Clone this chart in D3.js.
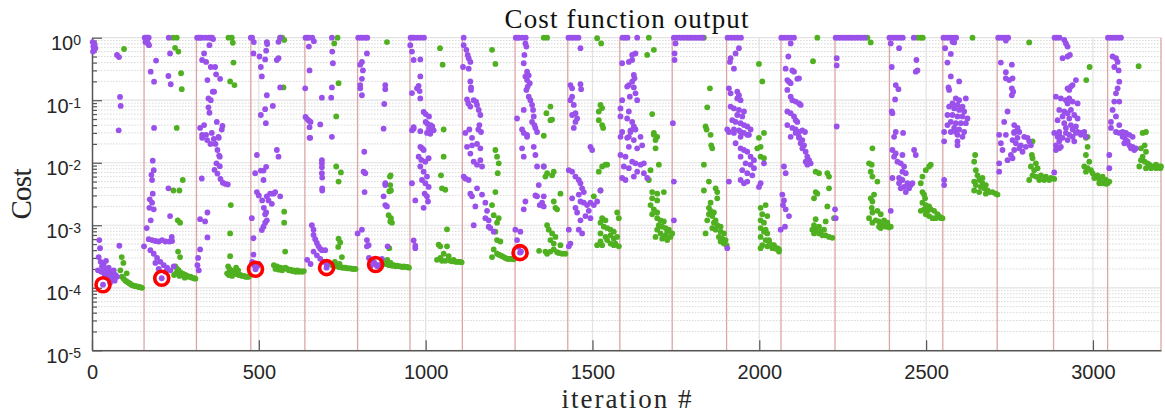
<!doctype html>
<html>
<head>
<meta charset="utf-8">
<title>Cost function output</title>
<script src="https://d3js.org/d3.v7.min.js"></script>
<style>
body { margin: 0; background: #fff; }
svg text { fill: #262626; }
.tick text { font-family: "Liberation Sans", Arial, Helvetica, sans-serif; }
.serif { font-family: "Liberation Serif", "Times New Roman", serif; }
</style>
</head>
<body>
<svg id="chart"></svg>
<script>
// restart boundaries (iteration #)
var restarts = [156, 313, 476, 638, 796, 953, 1110, 1268, 1426, 1582, 1739, 1902, 2065, 2227, 2390, 2550, 2713, 2882, 3044, 3204];

var xTicks = [0, 500, 1000, 1500, 2000, 2500, 3000];
var yTicks = [1e-5, 1e-4, 1e-3, 1e-2, 1e-1, 1];
var yTickExp = ["-5", "-4", "-3", "-2", "-1", "0"];

// [iteration, cost]
var purplePts = [
  [2,0.85],[4,0.72],[6,0.65],[8,0.78],[3,0.6],[10,0.68],[75,0.53],[81,0.49],[84,0.113],[86,0.081],[80,0.033],[22,5.8e-4],[24,4.3e-4],[20,3.1e-4],[26,2.6e-4],[30,2.2e-4],[35,2.4e-4],[40,2.0e-4],[45,1.9e-4],[50,2.1e-4],[55,1.8e-4],[60,1.7e-4],[65,1.9e-4],[70,1.6e-4],[28,1.8e-4],[38,1.6e-4],[48,1.5e-4],[33,1.12e-4],[82,4.7e-4],[75,1.5e-4],[18,1.9e-4],[42,2.7e-4],[52,1.6e-4],[62,1.45e-4],[58,1.35e-4],[68,1.3e-4],[54,1.2e-4],
  [158,1],[162,1],[166,1],[170,1],[165,0.9],[160,0.85],[168,0.8],[171,0.76],[192,0.43],[176,0.286],[186,0.198],[234,0.56],[229,0.244],[236,0.18],[230,1],[186,0.036],[182,0.0108],[178,0.0064],[180,0.0053],[185,0.0076],[182,0.0032],[180,0.0023],[185,0.0018],[164,9e-4],[156,4.6e-4],[170,6e-4],[180,5.8e-4],[190,5.6e-4],[200,5.5e-4],[210,5.8e-4],[220,5.5e-4],[232,5.5e-4],[240,5.6e-4],[229,0.0039],[234,0.0014],[239,6.5e-4],[175,4e-4],[185,3.5e-4],[195,3e-4],[205,2.6e-4],[215,2.3e-4],[225,2.1e-4],[190,2.5e-4],[200,2e-4],[209,1.42e-4],[220,1.8e-4],[235,1.9e-4],[245,2.2e-4],[172,1.9e-3],[176,1.2e-3],[173,2.6e-3],
  [315,1],[320,1],[325,1],[330,1],[340,1],[350,1],[355,1],[360,1],[363,0.95],[352,0.76],[336,0.56],[330,0.44],[342,0.41],[356,0.34],[369,0.34],[372,0.26],[346,0.21],[384,0.22],[362,0.137],[366,0.137],[349,0.107],[356,0.1],[349,0.077],[352,0.063],[374,0.045],[336,0.04],[324,0.036],[391,0.039],[389,0.034],[359,0.03],[330,0.028],[342,0.028],[379,0.026],[330,0.025],[345,0.023],[365,0.024],[380,0.025],[370,0.02],[355,0.02],[376,0.016],[381,0.013],[383,0.0125],[373,0.0098],[383,0.0088],[367,0.0077],[376,0.0067],[385,0.0055],[392,0.0048],[399,0.0046],[407,0.0045],[329,0.0056],[346,0.0016],[339,0.00115],[324,0.00125],[346,6.4e-4],[324,4.1e-4],[318,3e-4],[316,2.3e-4],[320,1.9e-4],
  [476,1],[480,1],[485,0.85],[484,0.56],[502,0.5],[506,0.34],[509,0.24],[524,0.85],[525,0.79],[522,0.62],[519,0.45],[524,0.12],[559,0.86],[564,1],[554,0.44],[559,0.47],[564,0.16],[542,0.081],[519,0.072],[506,0.058],[521,0.043],[494,0.0133],[489,0.0068],[506,0.0075],[514,0.0075],[522,0.0086],[514,0.0053],[494,0.0034],[500,0.003],[510,0.0025],[515,0.0019],[522,0.0016],[524,0.0029],[529,0.0025],[534,0.0032],[539,0.0022],[544,0.0032],[519,0.0015],[524,0.0012],[514,9.5e-4],[509,8.4e-4],[519,0.0011],[554,0.016],[559,0.0125],[549,0.0034],[564,0.0029],[479,0.0013],[484,6.2e-4],[484,3.4e-4],[480,2.6e-4],[486,2.3e-4],[490,1.98e-4],[495,2.2e-4],[500,2.4e-4],
  [640,1],[645,1],[650,1],[660,1],[665,0.88],[650,0.72],[652,0.3],[639,0.155],[640,0.054],[645,0.05],[650,0.047],[655,0.045],[652,0.037],[654,0.025],[689,0.11],[684,0.041],[719,1],[720,0.6],[722,0.39],[719,0.16],[717,0.11],[719,0.026],[652,0.025],[689,0.011],[689,0.0098],[689,0.0085],[689,0.0068],[690,0.0058],[690,0.0039],[690,0.0036],[659,0.001],[664,8.5e-4],[664,7e-4],[669,6e-4],[674,5.2e-4],[679,4.6e-4],[684,4.2e-4],[689,4e-4],[699,4e-4],[664,3.8e-4],[674,3.3e-4],[684,2.9e-4],[694,2.6e-4],[704,2.3e-4],[703,2.1e-4],[645,2.8e-4],[655,2.4e-4],
  [798,1],[805,1],[812,1],[820,1],[825,1],[824,0.56],[809,0.41],[804,0.37],[812,0.3],[809,0.22],[804,0.175],[804,0.155],[809,0.12],[879,0.175],[879,0.15],[876,0.087],[874,0.035],[816,0.015],[814,0.0072],[819,0.0068],[817,0.0034],[796,7.4e-4],[809,8.5e-4],[824,5.8e-4],[829,4.8e-4],[824,4.6e-4],[874,0.0029],[879,0.0021],[879,0.0047],[886,4.6e-4],[869,2.9e-4],[830,3e-4],[840,2.7e-4],[850,2.36e-4],[860,2.3e-4],[855,2.2e-4],[845,2.6e-4],[835,2.2e-4],[879,0.0044],[884,0.002],
  [955,1],[960,1],[965,1],[975,1],[985,1],[995,1],[954,0.76],[959,0.6],[964,0.44],[984,0.45],[984,0.24],[979,0.17],[974,0.155],[982,0.14],[959,0.13],[984,0.107],[994,0.065],[1000,0.06],[1010,0.055],[1000,0.045],[1005,0.042],[1015,0.04],[1020,0.038],[1010,0.035],[1015,0.033],[964,0.037],[959,0.033],[964,0.035],[984,0.032],[1004,0.03],[1014,0.029],[1024,0.033],[959,0.0047],[969,0.0025],[984,0.018],[989,0.0171],[994,0.016],[979,0.0125],[987,0.0111],[999,0.0104],[1009,0.0118],[984,0.0087],[994,0.0072],[1004,0.006],[989,0.0053],[999,0.0047],[1009,0.0041],[997,0.0032],[1004,0.0029],[1007,0.0024],[994,0.0019],[964,5.7e-4],[969,4.7e-4],[969,4.3e-4],
  [1114,1],[1114,0.76],[1122,0.64],[1126,0.53],[1129,0.47],[1134,0.41],[1129,0.32],[1112,0.34],[1134,0.2],[1136,0.16],[1136,0.146],[1124,0.103],[1128,0.089],[1134,0.079],[1144,0.1],[1151,0.095],[1154,0.084],[1159,0.07],[1164,0.058],[1131,0.034],[1161,0.04],[1158,0.034],[1166,0.031],[1119,0.03],[1139,0.025],[1124,0.018],[1139,0.019],[1154,0.02],[1164,0.017],[1134,0.014],[1144,0.0104],[1164,0.011],[1154,0.0093],[1169,0.0087],[1114,0.006],[1119,0.0056],[1129,0.0053],[1134,0.0032],[1139,0.0029],[1154,0.0039],[1149,0.002],[1169,0.0031],[1179,0.0023],[1184,0.0017],[1179,0.0013],[1189,0.0012],[1144,0.001],[1189,9.5e-4],[1194,9e-4],[1204,7.9e-4],
  [1270,1],[1275,1],[1280,1],[1290,1],[1300,1],[1299,0.81],[1302,0.72],[1296,0.53],[1294,0.39],[1304,0.286],[1299,0.24],[1309,0.25],[1304,0.21],[1312,0.187],[1306,0.165],[1302,0.146],[1309,0.114],[1314,0.1],[1319,0.084],[1322,0.07],[1324,0.055],[1319,0.045],[1326,0.04],[1329,0.036],[1334,0.031],[1294,0.07],[1274,0.051],[1289,0.034],[1304,0.028],[1294,0.03],[1304,0.026],[1324,0.018],[1329,0.0133],[1334,0.0087],[1354,0.0087],[1339,0.0044],[1329,0.003],[1334,0.0029],[1342,0.0021],[1354,0.0029],[1354,0.002],[1349,0.0023],[1294,0.0018],[1299,0.0024],[1289,0.017],[1294,0.0125],[1269,8.5e-4],[1284,7.9e-4],[1274,5.8e-4],[1286,3.8e-4],[1283,3.65e-4],[1278,4.5e-4],
  [1428,1],[1435,1],[1442,1],[1450,1],[1458,1],[1464,0.68],[1434,0.175],[1439,0.155],[1464,0.18],[1466,0.15],[1439,0.114],[1434,0.1],[1444,0.084],[1449,0.062],[1439,0.058],[1454,0.051],[1449,0.045],[1444,0.036],[1429,0.0076],[1439,0.0072],[1449,0.006],[1459,0.0053],[1464,0.0047],[1469,0.0039],[1474,0.0034],[1459,0.0031],[1464,0.0024],[1474,0.0023],[1484,0.0021],[1494,0.0023],[1504,0.0021],[1514,0.0024],[1489,0.0017],[1479,0.0014],[1494,0.0013],[1464,0.0012],[1459,8.5e-4],[1469,7.4e-4],[1449,0.0019],[1454,0.0016],[1439,0.0027],[1494,0.018],[1499,0.016],[1524,0.0036],[1429,8.5e-4],[1434,5.1e-4],[1429,4.6e-4],
  [1590,1],[1598,1],[1605,1],[1634,1],[1629,0.56],[1619,0.53],[1609,0.41],[1589,0.39],[1619,0.44],[1624,0.253],[1626,0.224],[1619,0.198],[1604,0.165],[1609,0.175],[1624,0.16],[1612,0.114],[1629,0.129],[1634,0.1],[1589,0.1],[1584,0.074],[1609,0.066],[1604,0.051],[1584,0.055],[1619,0.045],[1624,0.038],[1629,0.034],[1614,0.031],[1609,0.026],[1589,0.031],[1614,0.033],[1584,0.026],[1604,0.025],[1624,0.023],[1644,0.026],[1649,0.019],[1609,0.018],[1634,0.017],[1584,0.0133],[1599,0.0125],[1619,0.0104],[1629,0.0098],[1644,0.0093],[1654,0.0098],[1594,0.0087],[1609,0.0082],[1634,0.0072],[1654,0.0068],[1664,0.0057],[1589,0.0057],[1599,0.0053],[1624,0.006],
  [1744,1],[1752,1],[1760,1],[1768,1],[1776,1],[1784,1],[1792,1],[1800,1],[1808,1],[1816,1],[1824,1],[1830,1],[1749,0.81],[1746,0.56],[1746,0.44],[1741,0.043],[1744,0.005],[1744,0.0012],
  [1905,1],[1915,1],[1925,1],[1935,1],[1945,1],[1939,0.68],[1929,0.56],[1914,0.47],[1912,0.41],[1924,0.32],[1909,0.155],[1914,0.129],[1934,0.137],[1939,0.12],[1934,0.107],[1944,0.1],[1914,0.079],[1924,0.074],[1939,0.07],[1954,0.066],[1934,0.058],[1949,0.055],[1919,0.048],[1929,0.045],[1944,0.043],[1954,0.04],[1909,0.031],[1924,0.034],[1939,0.033],[1964,0.038],[1974,0.034],[1954,0.03],[1969,0.028],[1944,0.026],[1904,0.034],[1924,0.03],[1944,0.031],[1964,0.028],[1929,0.0205],[1944,0.017],[1954,0.016],[1964,0.015],[1974,0.0125],[1984,0.011],[1944,0.0125],[1959,0.0098],[1974,0.0093],[1984,0.0082],[1949,0.0076],[1964,0.0068],[1979,0.0063],[1944,0.0053],[1954,0.0047],[1964,0.005],[2004,0.0047],[2014,0.0098],[1999,0.0041],[1909,0.005],[1904,4.3e-4],
  [2066,1],[2075,1],[2085,1],[2095,1],[2104,1],[2094,0.81],[2087,0.5],[2079,0.32],[2099,0.3],[2104,0.286],[2114,0.22],[2119,0.224],[2084,0.21],[2089,0.198],[2094,0.187],[2084,0.146],[2094,0.114],[2099,0.1],[2109,0.095],[2119,0.089],[2124,0.084],[2084,0.066],[2094,0.062],[2104,0.055],[2109,0.048],[2114,0.045],[2084,0.04],[2099,0.036],[2109,0.034],[2119,0.031],[2129,0.033],[2137,0.031],[2094,0.026],[2119,0.025],[2109,0.03],[2119,0.026],[2129,0.023],[2124,0.0205],[2134,0.019],[2129,0.017],[2139,0.015],[2144,0.0125],[2149,0.011],[2139,0.0104],[2154,0.0098],[2144,0.0093],[2074,0.0087],[2079,0.0068],[2069,0.0031],[2074,0.0025],[2071,0.0021],[2079,0.0018],[2089,0.0014],[2064,8.5e-4],[2077,9.5e-4],[2227,0.0018],[2229,0.0013],
  [2229,1],[2236,1],[2244,1],[2252,1],[2260,1],[2268,1],[2276,1],[2284,1],[2292,1],[2300,1],[2308,1],[2316,1],[2232,0.47],[2232,0.36],[2232,0.038],
  [2390,1],[2398,1],[2406,1],[2414,1],[2422,1],[2430,1],[2463,1],[2394,0.81],[2419,0.68],[2397,0.34],[2471,0.44],[2469,0.286],[2474,0.3],[2409,0.175],[2417,0.15],[2407,0.103],[2397,0.066],[2399,0.062],[2409,0.031],[2431,0.03],[2404,0.026],[2399,0.016],[2409,0.0141],[2404,0.0125],[2429,0.0133],[2414,0.0104],[2424,0.0098],[2434,0.0087],[2429,0.0072],[2439,0.0068],[2419,0.0057],[2429,0.0053],[2444,0.0047],[2454,0.0044],[2434,0.0041],[2449,0.0039],[2439,0.0034],[2459,0.0047],[2464,0.016],[2469,0.0133],[2399,0.0057],[2419,0.0047],[2424,0.0039],[2394,0.0017],
  [2552,1],[2560,1],[2568,1],[2576,1],[2584,1],[2590,1],[2579,0.86],[2584,0.84],[2557,0.68],[2574,0.55],[2564,0.4],[2574,0.24],[2599,0.2],[2567,0.16],[2569,0.146],[2589,0.107],[2599,0.1],[2619,0.107],[2579,0.089],[2594,0.084],[2609,0.079],[2569,0.079],[2584,0.074],[2599,0.07],[2614,0.066],[2564,0.058],[2579,0.058],[2594,0.055],[2609,0.055],[2624,0.051],[2574,0.045],[2589,0.043],[2604,0.043],[2619,0.043],[2564,0.04],[2584,0.036],[2599,0.034],[2614,0.031],[2574,0.031],[2594,0.028],[2609,0.026],[2554,0.022],[2554,0.031],[2589,0.031],[2594,0.022],[2594,0.019],[2554,0.0053],[2554,0.0044],
  [2716,1],[2722,1],[2730,1],[2738,1],[2746,1],[2739,0.9],[2724,0.4],[2757,0.37],[2739,0.28],[2739,0.224],[2749,0.21],[2759,0.224],[2757,0.155],[2761,0.137],[2757,0.12],[2744,0.066],[2734,0.045],[2764,0.04],[2774,0.036],[2764,0.031],[2719,0.028],[2739,0.028],[2764,0.03],[2779,0.031],[2759,0.023],[2774,0.025],[2794,0.026],[2804,0.025],[2769,0.0205],[2784,0.019],[2799,0.018],[2764,0.016],[2779,0.017],[2789,0.015],[2754,0.0133],[2744,0.011],[2759,0.0118],[2724,0.0205],[2729,0.016],[2719,0.0098],[2719,0.0072],[2809,0.022],[2814,0.019],
  [2885,1],[2892,1],[2900,1],[2914,0.92],[2919,0.81],[2924,0.72],[2909,0.47],[2924,0.5],[2931,0.53],[2949,0.21],[2939,0.175],[2924,0.155],[2929,0.146],[2934,0.165],[2889,0.114],[2904,0.107],[2919,0.1],[2929,0.107],[2924,0.089],[2939,0.095],[2899,0.07],[2914,0.066],[2934,0.07],[2954,0.089],[2924,0.062],[2909,0.055],[2929,0.051],[2944,0.058],[2954,0.051],[2894,0.048],[2914,0.043],[2934,0.04],[2949,0.038],[2899,0.031],[2919,0.036],[2939,0.034],[2954,0.031],[2964,0.03],[2929,0.028],[2899,0.028],[2979,0.026],[2884,0.03],[2894,0.026],[2899,0.022],[2889,0.019],[2904,0.018],[2919,0.03],[2939,0.026],[2949,0.03],[2964,0.028],[2974,0.031],[2909,0.025],[2924,0.023],[2944,0.022],[2889,0.016],[2899,0.017],[2884,0.007],
  [3045,1],[3052,1],[3060,1],[3068,1],[3076,1],[3084,1],[3059,0.5],[3069,0.47],[3074,0.41],[3064,0.34],[3077,0.3],[3079,0.198],[3074,0.155],[3069,0.129],[3064,0.095],[3079,0.095],[3059,0.07],[3069,0.055],[3054,0.045],[3079,0.04],[3089,0.031],[3099,0.03],[3109,0.028],[3094,0.026],[3119,0.026],[3054,0.036],[3069,0.031],[3079,0.03],[3089,0.026],[3099,0.023],[3094,0.0205],[3109,0.019],[3114,0.017],[3124,0.016],[3129,0.017],[3119,0.018],[3104,0.022],[3049,0.0133],[3049,0.0082]
];

var greenPts = [
  [96,0.66],[89,3.1e-4],[94,2.5e-4],[104,1.7e-4],[90,1.5e-4],[100,1.3e-4],[110,1.2e-4],[115,1.15e-4],[120,1.1e-4],[125,1.08e-4],[130,1.06e-4],[135,1.05e-4],[140,1.03e-4],[145,1.02e-4],[150,1.0e-4],[95,1.4e-4],[105,1.25e-4],[112,1.18e-4],[85,1.9e-4],
  [243,1],[254,1],[249,0.69],[259,0.6],[267,0.27],[269,0.15],[254,0.036],[272,0.0053],[244,0.0036],[262,0.0036],[257,0.0012],[264,0.0011],[258,3.8e-4],[264,3.1e-4],[250,2.2e-4],[255,2.0e-4],[260,1.9e-4],[265,1.75e-4],[270,1.7e-4],[275,1.65e-4],[280,1.6e-4],[285,1.55e-4],[290,1.5e-4],[295,1.5e-4],[300,1.45e-4],[305,1.42e-4],[310,1.4e-4],[246,1.6e-4],[252,1.7e-4],[262,1.55e-4],[278,1.45e-4],
  [409,1],[419,1],[422,0.83],[424,0.4],[414,0.2],[427,0.175],[416,0.0021],[414,7.4e-4],[414,3.2e-4],[408,2.2e-4],[412,2e-4],[418,1.9e-4],[422,1.8e-4],[426,1.75e-4],[430,1.7e-4],[435,1.65e-4],[440,1.6e-4],[445,1.6e-4],[450,1.55e-4],[455,1.55e-4],[460,1.5e-4],[465,1.5e-4],[470,1.5e-4],[405,1.7e-4],[410,1.6e-4],[420,1.55e-4],[432,2.1e-4],[438,1.9e-4],
  [564,1],[570,1],[576,0.92],[574,0.16],[576,0.00165],[576,0.0011],[579,3.8e-4],[545,2.3e-4],[555,2.2e-4],[565,2.1e-4],[575,2.05e-4],[585,2.0e-4],[595,1.95e-4],[605,1.9e-4],[615,1.9e-4],[625,1.85e-4],[635,1.85e-4],[550,2.0e-4],[560,1.95e-4],[570,1.9e-4],[580,2.1e-4],[590,1.9e-4],[600,1.85e-4],[610,1.8e-4],[620,1.8e-4],[630,1.8e-4],
  [736,1],[726,0.81],[739,0.187],[732,0.055],[732,0.0087],[746,0.007],[739,0.005],[739,6.1e-4],[744,5.3e-4],[738,4.5e-4],[749,3.1e-4],[715,2.4e-4],[720,2.3e-4],[725,2.25e-4],[730,2.2e-4],[735,2.2e-4],[740,2.15e-4],[745,2.15e-4],[750,2.1e-4],[755,2.1e-4],[760,2.1e-4],[765,2.05e-4],[770,2.05e-4],[775,2.05e-4],[780,2.0e-4],[785,2.0e-4],[790,2.0e-4],[728,2.6e-4],[742,2.4e-4],
  [884,0.85],[895,0.0063],[894,0.0044],[896,0.0036],[889,0.00145],[896,0.0013],[899,0.0011],[893,0.006],[891,0.0035],[894,0.00115],[891,4.3e-4],[870,2.6e-4],[880,2.4e-4],[890,2.3e-4],[900,2.25e-4],[910,2.2e-4],[920,2.2e-4],[930,2.15e-4],[940,2.15e-4],[950,2.1e-4],[885,2.8e-4],[895,2.5e-4],[905,2.3e-4],[915,2.25e-4],[925,2.2e-4],[935,2.2e-4],[945,2.15e-4],
  [1043,0.68],[1051,0.37],[1054,0.034],[1054,0.0125],[1046,0.0063],[1049,0.0039],[1059,0.0037],[1064,8.6e-4],[1039,4.9e-4],[1044,4.6e-4],[1064,4.6e-4],[1054,3.5e-4],[1069,3.2e-4],[1084,2.8e-4],[1094,2.6e-4],[1104,2.6e-4],[1034,2.8e-4],[1049,2.7e-4],[1059,2.7e-4],[1074,2.7e-4],[1079,2.65e-4],[1089,2.6e-4],[1099,2.6e-4],[1108,2.55e-4],[1044,3e-4],
  [1199,0.64],[1209,0.38],[1209,0.016],[1214,0.0125],[1219,0.0098],[1216,0.0068],[1209,0.0034],[1199,0.0021],[1204,0.00145],[1219,0.0013],[1214,0.0011],[1209,7.9e-4],[1214,5.8e-4],[1224,5.5e-4],[1204,4.1e-4],[1214,3.5e-4],[1224,3.3e-4],[1234,3.1e-4],[1244,2.9e-4],[1259,2.9e-4],[1199,3.1e-4],[1229,3.2e-4],[1239,3.0e-4],[1249,2.9e-4],[1254,2.9e-4],[1264,2.85e-4],[1219,3.4e-4],
  [1354,1],[1364,1],[1374,0.079],[1362,0.062],[1374,0.048],[1379,0.049],[1354,0.027],[1359,0.006],[1364,0.0068],[1384,0.0072],[1379,0.0063],[1354,0.0087],[1404,0.0032],[1389,0.0019],[1394,0.0018],[1384,0.0024],[1364,0.001],[1369,8.5e-4],[1379,7.4e-4],[1389,6.5e-4],[1374,5.8e-4],[1384,5.1e-4],[1404,4.8e-4],[1359,3.8e-4],[1364,3.5e-4],[1374,3.8e-4],[1384,4.1e-4],[1394,3.7e-4],[1409,3.5e-4],[1419,3.5e-4],[1340,3.9e-4],[1399,3.6e-4],
  [1514,0.98],[1526,0.81],[1524,0.084],[1529,0.075],[1519,0.066],[1519,0.048],[1529,0.04],[1532,0.036],[1529,0.0087],[1539,0.0093],[1544,0.0093],[1519,0.0072],[1524,0.0036],[1504,0.0029],[1529,0.0013],[1539,0.0012],[1524,0.0011],[1534,9.5e-4],[1544,9e-4],[1554,8.5e-4],[1564,7.9e-4],[1524,7.4e-4],[1539,6.5e-4],[1554,6.9e-4],[1564,6.1e-4],[1574,6.5e-4],[1544,5.8e-4],[1514,4.8e-4],[1529,4.8e-4],[1554,5.1e-4],[1569,5.1e-4],[1579,4.6e-4],[1564,4.8e-4],[1524,5.5e-4],[1574,0.0016],[1579,0.0013],
  [1669,1],[1684,0.64],[1664,0.53],[1679,0.06],[1684,0.03],[1694,0.026],[1684,0.028],[1689,0.023],[1689,0.017],[1699,0.0093],[1674,0.0076],[1669,0.0053],[1679,0.0034],[1694,0.0032],[1714,0.0034],[1679,0.0027],[1694,0.0025],[1674,0.0021],[1684,0.0018],[1694,0.0016],[1679,0.0015],[1694,0.0013],[1704,0.0012],[1714,0.00115],[1699,0.001],[1709,9.5e-4],[1719,9e-4],[1729,8.5e-4],[1694,8.5e-4],[1704,7.4e-4],[1719,6.9e-4],[1734,6.5e-4],[1724,7.9e-4],[1739,7.4e-4],[1689,6.5e-4],[1709,6.1e-4],[1724,5.8e-4],
  [1834,1],[1852,0.155],[1844,0.077],[1839,0.038],[1842,0.034],[1854,0.028],[1856,0.019],[1859,0.017],[1834,0.0093],[1849,0.005],[1834,0.0036],[1869,0.0039],[1874,0.0034],[1874,0.0027],[1854,0.0023],[1849,0.0019],[1854,0.0017],[1864,0.0016],[1849,0.0015],[1859,0.0014],[1869,0.0012],[1864,0.0011],[1874,0.001],[1884,9.5e-4],[1859,9e-4],[1869,8.5e-4],[1884,7.9e-4],[1894,7.4e-4],[1879,6.5e-4],[1889,6.1e-4],[1899,5.8e-4],[1884,5.5e-4],[1894,5.1e-4],[1902,4.8e-4],[1839,7.4e-4],[1844,0.0012],
  [1999,0.38],[2009,0.2],[2014,0.03],[1999,0.025],[2004,0.018],[1994,0.017],[2004,0.0125],[2014,0.0118],[2004,0.0019],[2009,0.0015],[2004,0.0012],[2014,0.0011],[2004,9e-4],[2014,7.9e-4],[2024,7.4e-4],[2004,6.5e-4],[2019,5.8e-4],[2029,5.5e-4],[2009,4.8e-4],[2024,4.6e-4],[2039,4.3e-4],[2054,4.3e-4],[2004,4.3e-4],[2044,4.8e-4],[2049,4.2e-4],[2059,4.1e-4],[2019,0.0021],[2019,8.5e-4],[2029,5.8e-4],[2039,4.8e-4],[2049,4.3e-4],[2059,3.8e-4],[2024,0.0014],
  [2174,1],[2161,0.42],[2169,0.0072],[2179,0.0068],[2204,0.0068],[2209,0.006],[2169,0.0034],[2174,0.0032],[2164,0.0027],[2209,0.0039],[2204,0.002],[2169,0.00125],[2164,0.001],[2179,9.5e-4],[2169,8.5e-4],[2184,7.9e-4],[2194,8.5e-4],[2179,7.4e-4],[2189,6.9e-4],[2199,6.9e-4],[2209,6.5e-4],[2219,6.3e-4],[2224,0.0013],[2199,0.00115],[2159,8.5e-4],[2164,7.4e-4],
  [2324,1],[2334,0.84],[2339,0.017],[2329,0.0098],[2337,0.0093],[2334,0.0072],[2339,0.006],[2354,0.005],[2344,0.0031],[2334,0.0027],[2339,0.0024],[2337,0.0019],[2329,0.0013],[2339,0.0016],[2354,0.0017],[2364,0.0015],[2349,0.0012],[2359,0.00115],[2369,0.001],[2379,9.5e-4],[2389,9.3e-4],[2359,9.5e-4],[2339,0.0011],[2374,0.0012],[2384,0.0011],[2394,9.5e-4],[2364,9e-4],
  [2474,1],[2484,1],[2490,1],[2514,0.0093],[2509,0.0087],[2499,0.0076],[2489,0.006],[2484,0.0047],[2489,0.0034],[2497,0.0027],[2489,0.0023],[2499,0.0021],[2509,0.002],[2484,0.0017],[2494,0.0018],[2504,0.0017],[2514,0.0018],[2524,0.0017],[2534,0.0015],[2539,0.0014],[2499,0.0015],[2509,0.0014],[2519,0.0013],[2529,0.0013],[2544,0.0013],[2494,0.0031],[2549,0.0013],
  [2639,1],[2647,0.0133],[2644,0.0104],[2649,0.0076],[2654,0.0063],[2644,0.005],[2649,0.0044],[2659,0.0053],[2669,0.0047],[2664,0.0041],[2679,0.0044],[2674,0.0039],[2684,0.0036],[2689,0.0034],[2699,0.0034],[2709,0.0032],[2714,0.0031],[2659,0.0034],[2644,0.0036],[2679,0.0032],[2669,0.0057],
  [2809,0.84],[2819,0.022],[2817,0.0133],[2819,0.0118],[2829,0.0098],[2814,0.0087],[2824,0.0076],[2834,0.0082],[2819,0.0063],[2809,0.0053],[2829,0.006],[2844,0.0063],[2859,0.006],[2874,0.0057],[2884,0.0055],[2839,0.0053],[2854,0.0053],[2869,0.0053],
  [2990,0.34],[2980,0.21],[2984,0.026],[2979,0.025],[2984,0.018],[2979,0.0133],[2989,0.0104],[2974,0.0087],[2984,0.0082],[2994,0.0076],[2979,0.0072],[2999,0.0068],[3014,0.0063],[3029,0.006],[3039,0.0053],[3004,0.0057],[3019,0.0053],[3034,0.005],[3044,0.0047],[3019,0.0047],[3029,0.0047],[3039,0.0046],[3049,0.005],
  [3137,0.35],[3149,0.03],[3159,0.031],[3155,0.019],[3144,0.017],[3159,0.015],[3149,0.0125],[3144,0.011],[3155,0.0104],[3164,0.0098],[3139,0.0087],[3169,0.0093],[3179,0.0087],[3189,0.0093],[3199,0.0087],[3204,0.0087],[3159,0.0082],[3174,0.0082],[3189,0.0082],[3202,0.0082]
];

// best cost of the early runs (circled)
var bestPts = [[33,1.12e-4],[209,1.42e-4],[490,1.98e-4],[703,2.1e-4],[850,2.36e-4],[1283,3.65e-4]];

var width = 1165, height = 415,
    margin = {top: 37.7, right: 4, bottom: 64.7, left: 92};

var x = d3.scaleLinear()
    .domain([0, 3204])
    .range([margin.left, width - margin.right]);

var y = d3.scaleLog()
    .domain([1e-5, 1])
    .range([height - margin.bottom, margin.top]);

var svg = d3.select("#chart")
    .attr("width", width)
    .attr("height", height);

var minorTicks = [];
yTicks.slice(0, -1).forEach(function(t) {
    for (var k = 2; k <= 9; k++) minorTicks.push(t * k);
});

// grid
svg.append("g")
    .selectAll("line")
    .data(minorTicks)
    .join("line")
    .attr("x1", x.range()[0]).attr("x2", x.range()[1])
    .attr("y1", d => y(d)).attr("y2", d => y(d))
    .attr("stroke", "#cfcfcf")
    .attr("stroke-width", 0.8)
    .attr("stroke-dasharray", "1.5,1.5");

svg.append("g")
    .selectAll("line")
    .data(yTicks)
    .join("line")
    .attr("x1", x.range()[0]).attr("x2", x.range()[1])
    .attr("y1", d => y(d)).attr("y2", d => y(d))
    .attr("stroke", "#e2e2e2")
    .attr("stroke-width", 1.2);

svg.append("g")
    .selectAll("line")
    .data(xTicks.slice(1))
    .join("line")
    .attr("x1", d => x(d)).attr("x2", d => x(d))
    .attr("y1", y.range()[0]).attr("y2", y.range()[1])
    .attr("stroke", "#e2e2e2")
    .attr("stroke-width", 1.2);

// restart markers
svg.append("g")
    .selectAll("line")
    .data(restarts)
    .join("line")
    .attr("x1", d => x(d)).attr("x2", d => x(d))
    .attr("y1", y.range()[0]).attr("y2", y.range()[1])
    .attr("stroke", "#dca6a6")
    .attr("stroke-width", 1.3);

// axes
var yAxis = svg.append("g")
    .attr("transform", `translate(${margin.left},0)`)
    .call(d3.axisLeft(y).tickValues(yTicks).tickSize(-10).tickSizeOuter(0).tickFormat(""));
svg.append("g")
    .attr("transform", `translate(${margin.left},0)`)
    .call(d3.axisLeft(y).tickValues(minorTicks).tickSize(-5).tickSizeOuter(0).tickFormat(""))
    .call(g => g.select(".domain").remove());

yAxis.selectAll(".tick").each(function(d, i) {
    var t = d3.select(this).append("text")
        .attr("x", -11)
        .attr("y", 12)
        .attr("text-anchor", "end")
        .style("font-size", "20px");
    t.append("tspan").text("10");
    t.append("tspan").attr("dy", -5).style("font-size", "14px").text(yTickExp[i]);
});

var xAxis = svg.append("g")
    .attr("transform", `translate(0,${height - margin.bottom})`)
    .call(d3.axisBottom(x).tickValues(xTicks).tickSize(-10).tickSizeOuter(0).tickFormat(d3.format("d")));
xAxis.selectAll(".tick text")
    .attr("y", 29).attr("dy", 0)
    .style("font-size", "20px");

svg.selectAll(".domain").attr("stroke", "#555").attr("stroke-width", 1.5);
svg.selectAll(".tick line").attr("stroke", "#555").attr("stroke-width", 1.2);

// points
svg.append("g")
    .selectAll("circle")
    .data(greenPts)
    .join("circle")
    .attr("cx", d => x(d[0]))
    .attr("cy", d => y(d[1]))
    .attr("r", 2.9)
    .attr("fill", "#4fb020");

svg.append("g")
    .selectAll("circle")
    .data(purplePts)
    .join("circle")
    .attr("cx", d => x(d[0]))
    .attr("cy", d => y(d[1]))
    .attr("r", 2.9)
    .attr("fill", "#9a50ea");

svg.append("g")
    .selectAll("circle")
    .data(bestPts)
    .join("circle")
    .attr("cx", d => x(d[0]))
    .attr("cy", d => y(d[1]))
    .attr("r", 7)
    .attr("fill", "none")
    .attr("stroke", "#ff0000")
    .attr("stroke-width", 3.6);

// titles
var midX = (x.range()[0] + x.range()[1]) / 2;

svg.append("text")
    .attr("class", "serif")
    .attr("x", midX)
    .attr("y", 28)
    .attr("text-anchor", "middle")
    .attr("textLength", 244)
    .attr("lengthAdjust", "spacing")
    .style("font-size", "27px")
    .style("fill", "#111")
    .text("Cost function output");

svg.append("text")
    .attr("class", "serif")
    .attr("x", midX)
    .attr("y", 408)
    .attr("text-anchor", "middle")
    .attr("textLength", 130)
    .attr("lengthAdjust", "spacing")
    .style("font-size", "27px")
    .text("iteration #");

svg.append("text")
    .attr("class", "serif")
    .attr("transform", `translate(31,${(y.range()[0] + y.range()[1]) / 2}) rotate(-90)`)
    .attr("text-anchor", "middle")
    .attr("textLength", 51)
    .attr("lengthAdjust", "spacing")
    .style("font-size", "29px")
    .text("Cost");
</script>
</body>
</html>
